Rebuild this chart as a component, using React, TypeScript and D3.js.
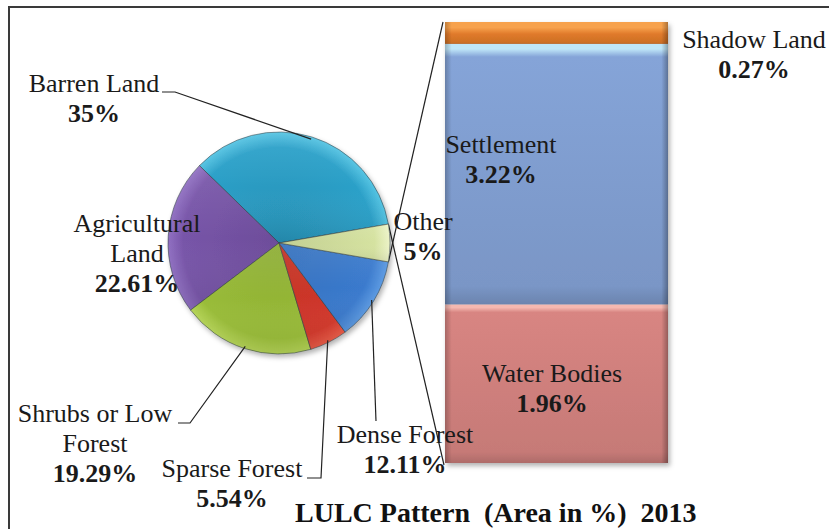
import React from "react";
import * as d3 from "d3";

// ---- data ----
const pieCategories = ["Barren Land", "Agricultural Land", "Shrubs or Low Forest", "Sparse Forest", "Dense Forest", "Other"];
const pieValues = [35, 22.61, 19.29, 5.54, 12.11];
const pieValueLabels = ["35%", "22.61%", "19.29%", "5.54%", "12.11%", "5%"];
const barCategories = ["Water Bodies", "Settlement", "Shadow Land"];
const barValues = [1.96, 3.22, 0.27];
const barValueLabels = ["1.96%", "3.22%", "0.27%"];
const titleText = "LULC Pattern\u00a0 (Area in %)\u00a0 2013";

// ---- styles ----
const pieColors = ["#2ba0c8", "#7754a8", "#99bc38", "#d2372a", "#3a7acd", "#d5e2a0"];
const pieLight = ["#55c4e3", "#9070c2", "#b6d558", "#ea5c47", "#5c9ae2", "#ecf3c8"];
const barColors = ["#d88582", "#85a4d8", "#e07a2a"];
const barLight = ["#f4b8b0", "#bfe6f8", "#f7a24e"];

const W = 829, H = 529;
const cx = 279, cy = 243, R = 111;
const FONT = "'Liberation Serif', 'Times New Roman', serif";

// label layouts
const pieLabelLayout = [
  { lines: ["Barren Land"], x: 94, y: 92, leader: [[162, 92], [175, 92]] },
  { lines: ["Agricultural", "Land"], x: 137, y: 232, leader: null },
  { lines: ["Shrubs or Low", "Forest"], x: 95, y: 422, leader: [[178, 423], [190, 423]] },
  { lines: ["Sparse Forest"], x: 232, y: 477, leader: [[307, 478], [321, 478]] },
  { lines: ["Dense Forest"], x: 405, y: 443, leader: [[376, 421]] },
  { lines: ["Other"], x: 423, y: 230, leader: null },
];
const barLabelLayout = [
  { x: 552, y: 382 },
  { x: 501, y: 153 },
  { x: 754, y: 48 },
];

export default function App() {
  const otherValue = d3.sum(barValues);
  const allPie = [...pieValues, otherValue];
  const total = d3.sum(allPie);
  const otherSpan = (otherValue / total) * 2 * Math.PI;
  const start = Math.PI / 2 - otherSpan / 2;
  const pie = d3
    .pie<number>()
    .sort(null)
    .value((d) => d)
    .startAngle(start)
    .endAngle(start - 2 * Math.PI);
  const arcsData = pie(allPie);
  const arc = d3.arc<d3.PieArcDatum<number>>().innerRadius(0).outerRadius(R);
  const rimArc = d3.arc<d3.PieArcDatum<number>>().innerRadius(R * 0.98).outerRadius(R * 0.98);

  const pt = (a: number, r: number) => [cx + r * Math.sin(a), cy - r * Math.cos(a)];
  const otherD = arcsData[5];
  const otherTop = pt(Math.max(otherD.startAngle, otherD.endAngle), R);
  const otherBot = pt(Math.min(otherD.startAngle, otherD.endAngle), R);

  // bar
  const barX0 = 445, barX1 = 668;
  const y = d3.scaleLinear().domain([0, otherValue]).range([463, 22]);
  let acc = 0;
  const stacks = barValues.map((v, i) => {
    const s = { i, y0: acc, y1: acc + v };
    acc += v;
    return s;
  });

  return (
    <svg width={W} height={H} style={{ position: "absolute", left: 0, top: 0, background: "#fff" }} fontFamily={FONT}>
      <defs>
        {pieColors.map((c, i) => (
          <radialGradient key={i} id={`pg${i}`} gradientUnits="userSpaceOnUse" cx={0} cy={0} r={R}>
            <stop offset="0%" stopColor={d3.color(c)!.darker(0.25).toString()} />
            <stop offset="86%" stopColor={c} />
            <stop offset="100%" stopColor={pieLight[i]} />
          </radialGradient>
        ))}
        <linearGradient id="pieShade" x1="0" y1="0" x2="0" y2="1">
          <stop offset="0%" stopColor="#fff" stopOpacity={0.08} />
          <stop offset="50%" stopColor="#fff" stopOpacity={0} />
          <stop offset="100%" stopColor="#000" stopOpacity={0.08} />
        </linearGradient>
        {barColors.map((c, i) => (
          <linearGradient key={i} id={`bg${i}`} x1="0" y1="0" x2="0" y2="1">
            <stop offset="0%" stopColor={barLight[i]} />
            <stop offset={i === 2 ? "25%" : "2%"} stopColor={barLight[i]} />
            <stop offset={i === 2 ? "55%" : "5%"} stopColor={c} />
            <stop offset="93%" stopColor={d3.color(c)!.darker(0.25).toString()} />
            <stop offset="100%" stopColor={d3.color(c)!.darker(0.6).toString()} />
          </linearGradient>
        ))}
        <linearGradient id="barSides" x1="0" y1="0" x2="1" y2="0">
          <stop offset="0%" stopColor="#000" stopOpacity={0.22} />
          <stop offset="3%" stopColor="#000" stopOpacity={0} />
          <stop offset="97%" stopColor="#000" stopOpacity={0} />
          <stop offset="100%" stopColor="#000" stopOpacity={0.3} />
        </linearGradient>
        <filter id="shadow" x="-20%" y="-20%" width="140%" height="140%">
          <feDropShadow dx="2" dy="3" stdDeviation="2.5" floodColor="#000" floodOpacity="0.3" />
        </filter>
      </defs>

      {/* chart border */}
      <path d={`M9,${H} V7 H${W}`} fill="none" stroke="#3a3a3a" strokeWidth={2} />

      {/* connector lines */}
      <line x1={otherTop[0]} y1={otherTop[1]} x2={barX0 - 2} y2={y(otherValue)} stroke="#222" strokeWidth={1.2} />
      <line x1={otherBot[0]} y1={otherBot[1]} x2={barX0 - 1} y2={y(0) + 2} stroke="#222" strokeWidth={1.2} />

      {/* pie */}
      <g filter="url(#shadow)">
        {arcsData.map((d, i) => (
          <path key={i} d={arc(d)!} transform={`translate(${cx},${cy})`} fill={`url(#pg${i})`} stroke="#2d3a40" strokeOpacity={0.55} strokeWidth={1} />
        ))}
      </g>
      {arcsData.map((d, i) => (
        <path key={"s" + i} d={arc(d)!} transform={`translate(${cx},${cy})`} fill="url(#pieShade)" />
      ))}

      {/* bar */}
      <g filter="url(#shadow)">
        {stacks.map((s) => (
          <rect key={s.i} x={barX0} width={barX1 - barX0} y={y(s.y1)} height={y(s.y0) - y(s.y1)} fill={`url(#bg${s.i})`} />
        ))}
      </g>
      {stacks.map((s) => (
        <rect key={"o" + s.i} x={barX0} width={barX1 - barX0} y={y(s.y1)} height={y(s.y0) - y(s.y1)} fill="url(#barSides)" />
      ))}

      {/* pie leader lines */}
      {pieLabelLayout.map((L, i) => {
        if (!L.leader) return null;
        const c = rimArc.centroid(arcsData[i]);
        const pts = [...L.leader, [cx + c[0], cy + c[1]]];
        return <polyline key={"l" + i} points={pts.map((p) => p.join(",")).join(" ")} fill="none" stroke="#222" strokeWidth={1.2} />;
      })}

      {/* pie labels */}
      {pieLabelLayout.map((L, i) => (
        <text key={"t" + i} x={L.x} y={L.y} textAnchor="middle" fontSize={26} fill="#1a1a1a">
          {L.lines.map((ln, k) => (
            <tspan key={k} x={L.x} y={L.y + k * 30}>{ln}</tspan>
          ))}
          <tspan x={L.x} y={L.y + L.lines.length * 30} fontWeight="bold">{pieValueLabels[i]}</tspan>
        </text>
      ))}

      {/* bar labels */}
      {barLabelLayout.map((L, i) => (
        <text key={"b" + i} x={L.x} y={L.y} textAnchor="middle" fontSize={26} fill="#1a1a1a">
          <tspan x={L.x} y={L.y}>{barCategories[i]}</tspan>
          <tspan x={L.x} y={L.y + 30} fontWeight="bold">{barValueLabels[i]}</tspan>
        </text>
      ))}

      {/* title */}
      <text x={295} y={522} fontSize={28} fontWeight="bold" fill="#111">{titleText}</text>
    </svg>
  );
}
